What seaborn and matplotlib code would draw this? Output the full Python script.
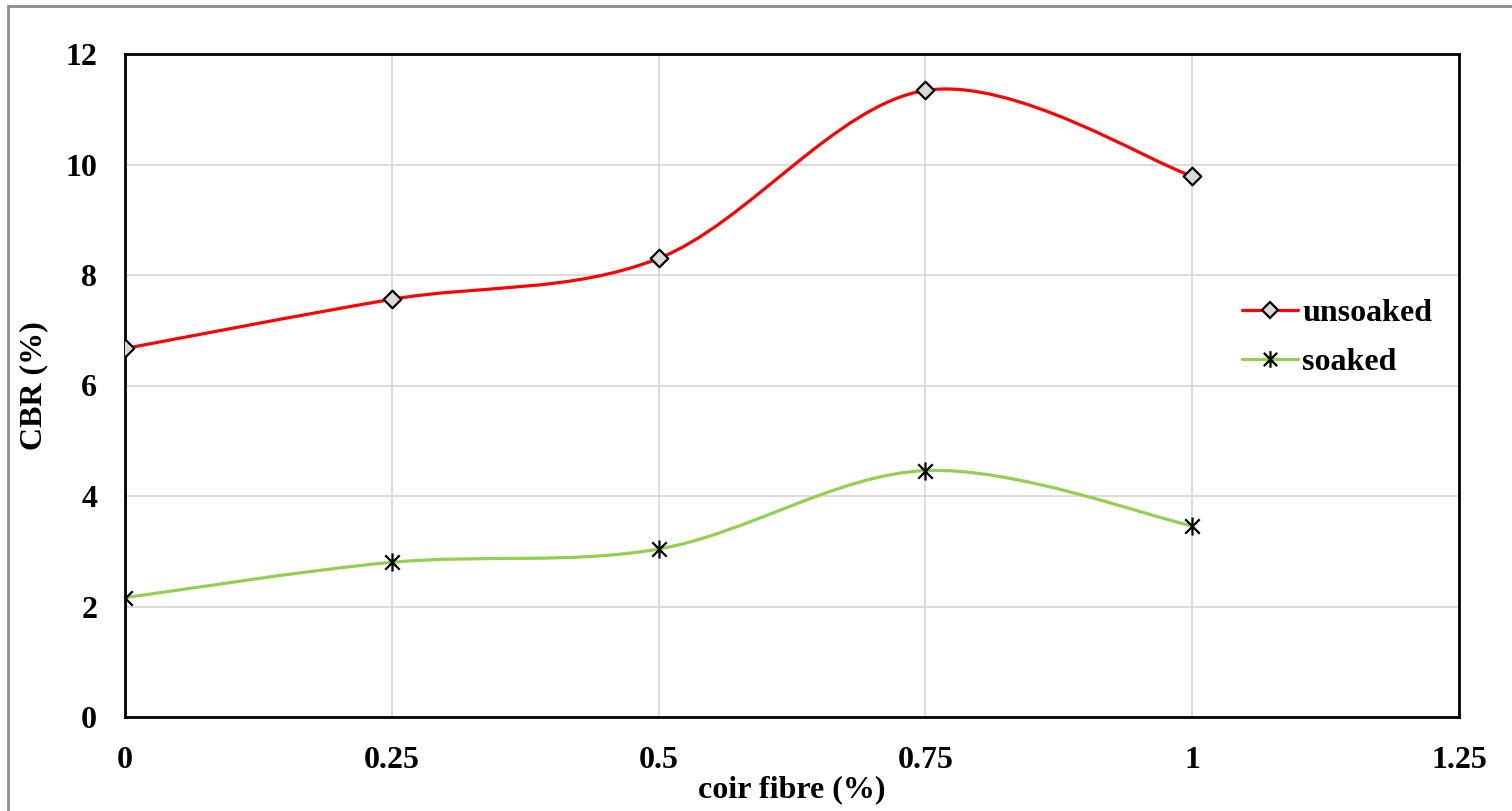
import numpy as np
import pandas as pd
import matplotlib
matplotlib.use("Agg")
import matplotlib.pyplot as plt
from matplotlib.path import Path
from matplotlib.patches import PathPatch, Rectangle
from matplotlib.lines import Line2D
import seaborn as sns

# ---- data ----
coir_fibre = [0, 0.25, 0.5, 0.75, 1.0]
unsoaked = [6.67, 7.56, 8.30, 11.34, 9.79]
soaked = [2.16, 2.80, 3.04, 4.46, 3.46]
series_names = ["unsoaked", "soaked"]
x_ticks = [0, 0.25, 0.5, 0.75, 1, 1.25]
x_tick_labels = ["0", "0.25", "0.5", "0.75", "1", "1.25"]
y_ticks = [0, 2, 4, 6, 8, 10, 12]

sns.set_theme(style="white")
plt.rcParams['font.family'] = ['Liberation Serif', 'DejaVu Serif']
plt.rcParams['font.weight'] = 'bold'
plt.rcParams['text.color'] = 'black'

fig = plt.figure(figsize=(15.12, 8.11), dpi=100)
ax = fig.add_axes([125/1512, 1 - 717/811, (1459-125)/1512, (717-54)/811])

df = pd.DataFrame({
    "x": coir_fibre * 2,
    "CBR": unsoaked + soaked,
    "series": ["unsoaked"] * len(coir_fibre) + ["soaked"] * len(coir_fibre),
})

RED = "#ff0000"
GREEN = "#92d050"

# Excel-style asterisk marker: x plus vertical bar
ast = Path(
    [(-1, -1), (1, 1), (-1, 1), (1, -1), (0, -1.25), (0, 1.25)],
    [Path.MOVETO, Path.LINETO, Path.MOVETO, Path.LINETO, Path.MOVETO, Path.LINETO],
)


def smooth_path(xs, ys):
    pts = np.column_stack([xs, ys]).astype(float)
    n = len(pts)
    verts = [pts[0]]
    codes = [Path.MOVETO]
    for i in range(n - 1):
        p0 = pts[i - 1] if i > 0 else pts[i]
        p1 = pts[i]
        p2 = pts[i + 1]
        p3 = pts[i + 2] if i + 2 < n else pts[i + 1]
        c1 = p1 + (p2 - p0) / 6.0
        c2 = p2 - (p3 - p1) / 6.0
        verts += [c1, c2, p2]
        codes += [Path.CURVE4] * 3
    return Path(verts, codes)


for name, col in [("unsoaked", RED), ("soaked", GREEN)]:
    sub = df[df["series"] == name]
    patch = PathPatch(smooth_path(sub["x"].values, sub["CBR"].values),
                      facecolor="none", edgecolor=col, lw=2.3,
                      transform=ax.transData, zorder=3, capstyle="round")
    ax.add_patch(patch)

sns.scatterplot(data=df[df["series"] == "unsoaked"], x="x", y="CBR", ax=ax,
                marker="D", s=80, color="#d9d9d9", edgecolor="black",
                linewidth=1.6, zorder=4, legend=False)
sns.scatterplot(data=df[df["series"] == "soaked"], x="x", y="CBR", ax=ax,
                marker=ast, s=170, color="black", edgecolor="black",
                linewidth=1.6, zorder=4, legend=False)

ax.set_xlim(0, 1.25)
ax.set_ylim(0, 12)
ax.set_xticks(x_ticks)
ax.set_xticklabels(x_tick_labels)
ax.set_yticks(y_ticks)
ax.grid(True, color="#d9d9d9", lw=1.3)
ax.set_axisbelow(True)
for s in ax.spines.values():
    s.set_visible(True)
    s.set_color("black")
    s.set_linewidth(2)
ax.tick_params(axis="both", length=0, labelsize=23, colors="black")
ax.tick_params(axis="x", pad=21)
ax.tick_params(axis="y", pad=20)
for lab in ax.get_xticklabels() + ax.get_yticklabels():
    lab.set_fontweight("bold")

ax.set_xlabel("coir fibre (%)", fontsize=23, fontweight="bold", labelpad=0, color="black")
ax.set_ylabel("CBR (%)", fontsize=23, fontweight="bold", labelpad=12, color="black")

handles = [
    Line2D([0], [0], color=RED, lw=2.3, marker="D", markersize=8.5,
           markerfacecolor="#d9d9d9", markeredgecolor="black", markeredgewidth=1.6),
    Line2D([0], [0], color=GREEN, lw=2.3, marker=ast, markersize=12,
           markerfacecolor="black", markeredgecolor="black", markeredgewidth=1.6),
]
leg = ax.legend(handles, series_names, loc="center left",
                bbox_to_anchor=(1213/1512, 1 - 338/811), bbox_transform=fig.transFigure,
                frameon=False, handlelength=1.75, handletextpad=0.15,
                labelspacing=0.62, prop={"size": 23, "weight": "bold"})
for t in leg.get_texts():
    t.set_color("black")

fig.patches.append(Rectangle((8/1512, -0.05), 1.1, 1 - 6/811 + 0.05,
                             transform=fig.transFigure, fill=False,
                             edgecolor="#8c8c8c", lw=2))

fig.savefig("out.png", dpi=100)
